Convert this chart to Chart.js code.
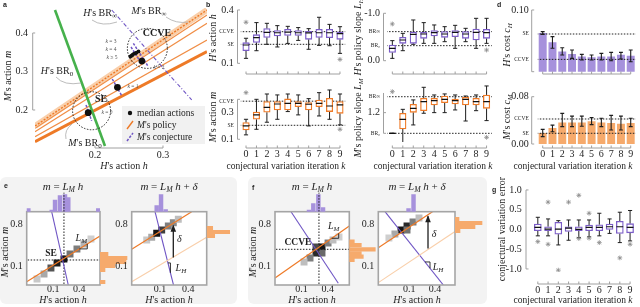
<!DOCTYPE html>
<html><head><meta charset="utf-8">
<script src="https://cdn.jsdelivr.net/npm/chart.js@4.4.1/dist/chart.umd.min.js"></script>
<style>
html,body{margin:0;padding:0;background:#fff;}
#wrap{position:relative;width:640px;height:307px;overflow:hidden;background:#fff;}
#wrap canvas{position:absolute;left:0;top:0;}
.bg{position:absolute;background:#f3f3f3;border-radius:6px;}
</style></head><body>
<div id="wrap">
<div class="bg" style="left:0px;top:177px;width:237px;height:127px"></div>
<div class="bg" style="left:248px;top:177px;width:239px;height:127px"></div>
</div>
<script>
// ======================= DATA =======================
const iterK = [0,1,2,3,4,5,6,7,8,9];

// panel a: median actions per iteration k, policies and conjectures
const aMedH = [0.190,0.233,0.269,0.264,0.259,0.255,0.252,0.257,0.254,0.261];
const aMedM = [0.193,0.259,0.327,0.352,0.347,0.343,0.339,0.346,0.341,0.349];
const aPolicyH = [0.1118, 0.3647];
const aPolicyBR0 = [0.1177, 0.3515];
const aPolicyK1 = [0.1307, 0.3818];
const aPolicyK2 = [0.1437, 0.4251];
const aPolicyK3 = [0.1524, 0.4468];
const aPolicyBRinf = [0.1584, 0.4597];
const aHBR0H = [0.1412, 0.2147], aHBR0M = [0.4597, 0.1065];
const aHBRinfH = [0.2246, 0.3422], aHBRinfM = [0.4597, 0.2260];
const aConjH = [[0.1868,0.1951],[0.2254,0.2393],[0.2564,0.2784],[0.253,0.265]];
const aConjM = [[0.213,0.1722],[0.2805,0.2372],[0.3732,0.3125],[0.3636,0.330]];
const aSE = [0.195, 0.198], aCCVE = [0.277, 0.360];

// panel b: box stats [whisker, q, median, q, whisker]
const hAction = [
 [0.128,0.171,0.203,0.216,0.241],[0.171,0.218,0.244,0.261,0.329],[0.207,0.246,0.274,0.295,0.325],
 [0.192,0.254,0.272,0.284,0.312],[0.212,0.257,0.276,0.291,0.308],[0.229,0.257,0.272,0.284,0.301],
 [0.179,0.235,0.271,0.280,0.295],[0.201,0.246,0.272,0.291,0.359],[0.199,0.244,0.272,0.291,0.319],
 [0.156,0.235,0.267,0.276,0.306]];
const hActionOut = [[0,0.331],[9,0.122]];
const hActionRef = [0.278, 0.207];   // CCVE, SE

const mAction = [
 [0.133,0.170,0.200,0.225,0.250],[0.175,0.250,0.283,0.305,0.400],[0.228,0.303,0.340,0.383,0.440],
 [0.250,0.320,0.365,0.383,0.433],[0.308,0.320,0.370,0.403,0.440],[0.283,0.345,0.370,0.383,0.433],
 [0.200,0.320,0.363,0.375,0.405],[0.275,0.345,0.370,0.395,0.450],[0.250,0.308,0.350,0.408,0.470],
 [0.208,0.295,0.358,0.383,0.440]];
const mActionOut = [[0,0.45],[9,0.175]];
const mActionRef = [0.386, 0.205];   // CCVE, SE

const hSlope = [
 [-0.049,-0.176,-0.260,-0.331,-0.423],[-0.211,-0.366,-0.437,-0.493,-0.577],[-0.345,-0.366,-0.556,-0.606,-0.859],
 [-0.366,-0.472,-0.563,-0.599,-0.803],[-0.366,-0.521,-0.592,-0.634,-0.754],[-0.401,-0.493,-0.563,-0.613,-0.718],
 [-0.261,-0.507,-0.599,-0.634,-0.746],[-0.401,-0.472,-0.563,-0.613,-0.683],[-0.261,-0.437,-0.599,-0.669,-0.894],
 [-0.366,-0.472,-0.592,-0.662,-0.894]];
const hSlopeOut = [[0,-0.775],[9,-0.225]];
const hSlopeRef = [-0.613, -0.317];  // BR_inf, BR_0

const mSlope = [
 [1.000,1.000,1.000,1.000,1.000],[0.910,1.042,1.135,1.194,1.232],[1.081,1.203,1.242,1.281,1.323],
 [1.194,1.219,1.306,1.339,1.445],[1.200,1.274,1.316,1.339,1.371],[1.200,1.297,1.329,1.361,1.381],
 [1.226,1.284,1.316,1.332,1.371],[1.119,1.274,1.329,1.348,1.361],[1.219,1.274,1.306,1.339,1.371],
 [1.123,1.242,1.306,1.371,1.458]];
const mSlopeOut = [[0,1.403],[9,0.961]];
const mSlopeRef = [1.354, 1.0];      // BR_inf, BR_0

// panel d: costs (mean, error low, error high)
const hCost   = [0.0622,0.0470,0.0324,0.0281,0.0243,0.0227,0.0243,0.0243,0.0270,0.0254];
const hCostLo = [0.0605,0.0380,0.0270,0.0216,0.0189,0.0189,0.0189,0.0178,0.0205,0.0162];
const hCostHi = [0.0649,0.0568,0.0389,0.0351,0.0281,0.0270,0.0297,0.0314,0.0314,0.0351];
const hCostRef = [0.0611, 0.0200];  // SE, CCVE
const mCost   = [0.0181,0.0265,0.0360,0.0360,0.0360,0.0378,0.0360,0.0349,0.0338,0.0349];
const mCostLo = [0.0124,0.0208,0.0293,0.0293,0.0300,0.0327,0.0293,0.0237,0.0237,0.0293];
const mCostHi = [0.0248,0.0320,0.0518,0.0472,0.0472,0.0446,0.0435,0.0484,0.0472,0.0435];
const mCostRef = [0.0423, 0.0181];  // CCVE, SE

// panel g: conjectural variation error
const cvErr = [
 [-0.162,-0.033,0.051,0.138,0.308],[-0.162,-0.033,0.009,0.069,0.266],[-0.392,-0.119,0.009,0.180,0.223],
 [-0.273,-0.051,0.034,0.069,0.240],[-0.205,-0.033,0.000,0.069,0.240],[-0.187,-0.033,0.051,0.112,0.240],
 [-0.162,-0.033,0.051,0.120,0.410],[-0.100,0.000,0.069,0.138,0.266],[-0.333,-0.103,0.069,0.205,0.436],
 [-0.290,-0.085,0.051,0.146,0.480]];
const cvErrOut = [[0,-0.308],[1,0.692],[1,-0.375],[2,-1.03],[3,0.692],[4,0.864],[4,-0.23],[5,0.41],[5,-0.22],[6,-0.333],[8,-0.72],[9,-0.375]];

// panel e (SE experiment)
const eSE = [0.223, 0.2];
const eLcellH = [-0.088,-0.007,0.073,0.143,0.223,0.293,0.373,0.454,0.535];
const eLcellM = [-0.117,-0.033,0.067,0.150,0.217,0.300,0.383,0.467,0.550];
const eLcellN = [0.15,0.30,0.70,0.95,1.00,0.55,0.50,0.25,0.12];
const eLhistH = [-0.188,0.082,0.120,0.177,0.235,0.273,0.619], eLhistHn = [3,1.5,11.5,16,17,14,3];
const eLhistM = [0.300,0.233,0.167,0.100,0.033,-0.167], eLhistMn = [8,27,26,15,5,5];
const eLpolicy = [[-0.207,-0.162],[0.639,0.600]], eLconj = [[0.081,1.005],[0.273,-0.217]];
const eRcellH = [-0.041,0.012,0.065,0.118,0.188,0.241,0.294];
const eRcellM = [0.533,0.578,0.645,0.700,0.767,0.822,0.878];
const eRcellN = [0.15,0.30,1.00,0.80,0.50,0.45,0.20];
const eRhistH = [0.065,0.111,0.160], eRhistHn = [6,17,2];
const eRhistM = [0.733,0.667,0.600], eRhistMn = [6,23,8];
const eRpolicy = [[-0.2,0.378],[0.436,1.005]], eRpolicy0 = [[-0.2,-0.162],[0.595,0.578]], eRconj = [[0.047,1.005],[0.243,-0.217]];
const eRdelta = [[0.241,0.24],[0.241,0.77]];

// panel f (CCVE experiment)
const fCCVE = [0.300, 0.378];
const fLcellH = [0.335,0.266,0.197,0.405,0.462,0.128,0.531,0.266,0.335];
const fLcellM = [0.417,0.317,0.233,0.483,0.533,0.167,0.583,0.417,0.317];
const fLcellN = [1.00,0.90,0.50,0.50,0.20,0.20,0.12,0.75,0.60];
const fLhistH = [0.185,0.235,0.293,0.347], fLhistHn = [1.5,8,17,4];
const fLhistM = [0.505,0.450,0.378,0.312,0.255,0.200], fLhistMn = [5,12,26,12,14,5];
const fLpolicy = [[-0.207,-0.1],[0.650,0.767]], fLconj = [[-0.022,1.005],[0.523,-0.188]];
const fRcellH = [0.003,0.073,0.143,-0.068,0.213,-0.138,0.073];
const fRcellM = [0.700,0.767,0.833,0.633,0.900,0.567,0.700];
const fRcellN = [1.00,0.90,0.50,0.30,0.20,0.12,0.55];
const fRhistH = [0.091,0.149], fRhistHn = [3,17];
const fRhistM = [0.883,0.817,0.750,0.683], fRhistMn = [4,27,20,5];
const fRpolicy = [[-0.262,0.403],[0.40,1.033]], fRpolicy0 = [[-0.262,-0.177],[0.633,0.675]], fRconj = [[-0.184,1.005],[0.497,-0.217]];
const fRdelta = [[0.318,0.39],[0.318,0.93]];

// ======================= STYLE / HELPERS =======================
const FF = '"Liberation Serif","DejaVu Serif",serif';
const SANS = '"Liberation Sans","DejaVu Sans",sans-serif';
const PURPLE = '#7b5dc7', PURPLE_F = '#a691dc', PURPLE_L = '#6f55c4';
const ORANGE = '#ee7a27', ORANGE_F = '#f6aa6c', ORANGE_L = '#f9cfaa', ORANGE_T = '#f08d45';
const GREEN = '#46b14c', SPINE = '#a0a0a0', INK = '#1e1e1e';
const wrap = document.getElementById('wrap');

function rich(ctx, segs, x, y, o = {}) {
  const size = o.size || 10;
  ctx.save();
  ctx.translate(x, y);
  if (o.rot) ctx.rotate(o.rot);
  ctx.fillStyle = o.color || INK;
  ctx.textBaseline = 'middle';
  ctx.textAlign = 'left';
  const parts = segs.map(sg => {
    const t = sg[0], st = sg[1] || '';
    const sub = st.includes('s');
    const fs = sub ? size * 0.7 : size;
    const font = (st.includes('i') ? 'italic ' : '') + (st.includes('b') ? 'bold ' : '') + fs + 'px ' + (st.includes('f') ? SANS : FF);
    ctx.font = font;
    return { t, font, w: ctx.measureText(t).width, dy: sub ? size * 0.28 : 0 };
  });
  const W = parts.reduce((a, p) => a + p.w, 0);
  let cx = o.align === 'left' ? 0 : o.align === 'right' ? -W : -W / 2;
  parts.forEach(p => { ctx.font = p.font; ctx.fillText(p.t, cx, p.dy); cx += p.w; });
  ctx.restore();
}
const ROT = -Math.PI / 2;

function sc(min, max, ticks, o = {}) {
  return {
    type: 'linear', min, max, reverse: !!o.reverse, offset: false,
    display: !!ticks,
    grid: { display: false, drawTicks: false }, border: { display: false },
    afterBuildTicks: s => { if (ticks) s.ticks = ticks.map(t => ({ value: t[0] })); },
    ticks: {
      autoSkip: false, maxRotation: 0, minRotation: 0, padding: o.pad ?? 4, color: INK,
      callback: (v, i) => ticks ? ticks[i][1] : '',
      font: c => ({ family: FF, size: (ticks && ticks[c.index] && ticks[c.index][2]) ? ticks[c.index][2] : (o.size || 10) })
    }
  };
}

function mk(type, datasets, area, scales, draw, before, extra = {}) {
  const cv = document.createElement('canvas');
  cv.width = 640; cv.height = 307;
  wrap.appendChild(cv);
  const [l, t, r, b] = area;
  const z = s => { s.paddingTop = s.paddingBottom = s.paddingLeft = s.paddingRight = 0; };
  scales.x.afterFit = s => { s.height = 307 - b; z(s); };
  scales.y.afterFit = s => { s.width = l; z(s); };
  return new Chart(cv.getContext('2d'), {
    type, data: { datasets },
    options: Object.assign({
      responsive: false, animation: false, devicePixelRatio: 1, events: [],
      layout: { padding: { left: 0, top: t, right: 640 - r, bottom: 0 } },
      plugins: { legend: { display: false }, tooltip: { enabled: false } },
      scales
    }, extra),
    plugins: [{
      id: 'deco',
      beforeDatasetsDraw(c) { if (before) { c.ctx.save(); before(c, c.ctx); c.ctx.restore(); } },
      afterDraw(c) { if (draw) { c.ctx.save(); draw(c, c.ctx); c.ctx.restore(); } }
    }]
  });
}
const P = (c, x, y) => ({ x: c.scales.x.getPixelForValue(x), y: c.scales.y.getPixelForValue(y) });
const line = (pts, color, w, dash) => ({ type: 'line', data: pts.map(p => ({ x: p[0], y: p[1] })), borderColor: color, borderWidth: w || 1.2, borderDash: dash || [], pointRadius: 0, spanGaps: false });

function ySpine(c, x, v0, v1, tv) {
  const ctx = c.ctx, s = c.scales.y;
  ctx.strokeStyle = SPINE; ctx.lineWidth = 1; ctx.setLineDash([]);
  ctx.beginPath(); ctx.moveTo(x, s.getPixelForValue(v0)); ctx.lineTo(x, s.getPixelForValue(v1));
  (tv || []).forEach(v => { const p = s.getPixelForValue(v); ctx.moveTo(x, p); ctx.lineTo(x + 2.5, p); });
  ctx.stroke();
}
function xSpine(c, y, v0, v1, tv) {
  const ctx = c.ctx, s = c.scales.x;
  ctx.strokeStyle = SPINE; ctx.lineWidth = 1; ctx.setLineDash([]);
  ctx.beginPath(); ctx.moveTo(s.getPixelForValue(v0), y); ctx.lineTo(s.getPixelForValue(v1), y);
  (tv || []).forEach(v => { const p = s.getPixelForValue(v); ctx.moveTo(p, y); ctx.lineTo(p, y - 2.5); });
  ctx.stroke();
}
const kTitle = [['conjectural variation iteration '], ['k', 'i']];

// ---------- box plot chart ----------
function boxChart(o) {
  const hw = o.hw ?? 0.31, cap = o.cap ?? 0.2;
  const med = [], wh = [];
  o.stats.forEach((s, k) => {
    med.push({ x: k - hw, y: s[2] }, { x: k + hw, y: s[2] }, { x: k, y: null });
    wh.push({ x: k, y: s[0] }, { x: k, y: s[1] }, { x: k, y: null }, { x: k, y: s[3] }, { x: k, y: s[4] }, { x: k, y: null },
      { x: k - cap, y: s[0] }, { x: k + cap, y: s[0] }, { x: k, y: null }, { x: k - cap, y: s[4] }, { x: k + cap, y: s[4] }, { x: k, y: null });
  });
  const ds = [
    { type: 'line', data: med, borderColor: '#111', borderWidth: 1.2, pointRadius: 0, spanGaps: false },
    { type: 'scatter', data: o.out.map(p => ({ x: p[0], y: p[1] })), pointStyle: 'star', pointRadius: 2.4, borderColor: '#8c8c8c', borderWidth: 0.8, backgroundColor: '#8c8c8c' },
    { type: 'bar', data: o.stats.map((s, k) => ({ x: k, y: [s[1], s[3]] })), backgroundColor: '#fff', borderColor: o.color, borderWidth: 1.3, borderSkipped: false, barThickness: o.barW ?? 6.5 },
    { type: 'line', data: wh, borderColor: INK, borderWidth: 1, pointRadius: 0, spanGaps: false },
    ...o.refs.map(v => line([[-0.6, v], [9.6, v]], '#222', 1, [1.5, 1.5]))
  ];
  mk('bar', ds, o.area, {
    x: sc(-0.5, 9.5, o.xlab ? iterK.map(k => [k, String(k)]) : null, { pad: o.xpad ?? 7 }),
    y: sc(o.ymin, o.ymax, o.yt, { pad: o.ypad ?? 7, reverse: o.reverse })
  }, (c, ctx) => {
    ySpine(c, o.sp[0], o.sp[1], o.sp[2], o.sp[3]);
    xSpine(c, o.xsY, 0, 9, iterK);
    if (o.ytitle) rich(ctx, o.ytitle[2], o.ytitle[0], o.ytitle[1], { rot: ROT, size: 10 });
    if (o.xtitle) rich(ctx, kTitle, o.xtitle[0], o.xtitle[1], { size: 9.5 });
  });
}

// ---------- bar chart with error bars ----------
function costChart(o) {
  const eb = [];
  o.vals.forEach((v, k) => {
    eb.push({ x: k, y: o.lo[k] }, { x: k, y: o.hi[k] }, { x: k, y: null },
      { x: k - 0.2, y: o.lo[k] }, { x: k + 0.2, y: o.lo[k] }, { x: k, y: null },
      { x: k - 0.2, y: o.hi[k] }, { x: k + 0.2, y: o.hi[k] }, { x: k, y: null });
  });
  const ds = [
    { type: 'line', data: eb, borderColor: INK, borderWidth: 1.1, pointRadius: 0, spanGaps: false },
    ...o.refs.map(v => line([[-0.6, v], [9.6, v]], '#222', 1, [1.5, 1.5])),
    { type: 'bar', data: o.vals.map((v, k) => ({ x: k, y: v })), backgroundColor: o.fill, barThickness: 7.3 }
  ];
  mk('bar', ds, o.area, {
    x: sc(-0.5, 9.5, o.xlab ? iterK.map(k => [k, String(k)]) : null, { pad: o.xpad ?? 5 }),
    y: sc(o.ymin, o.ymax, o.yt, { pad: o.ypad ?? 8 })
  }, (c, ctx) => {
    ySpine(c, o.sp[0], o.sp[1], o.sp[2], o.sp[3]);
    xSpine(c, o.xsY, 0, 9, iterK);
    rich(ctx, o.ytitle[2], o.ytitle[0], o.ytitle[1], { rot: ROT, size: 10 });
    if (o.xtitle) rich(ctx, kTitle, o.xtitle[0], o.xtitle[1], { size: 9.5 });
  });
}

// ---------- heat-map subpanel with marginal histograms ----------
const grey = n => { const v = Math.round(232 - 212 * n); return `rgb(${v},${v},${v})`; };
const onLine = (pts, x) => pts[0][1] + (x - pts[0][0]) * (pts[1][1] - pts[0][1]) / (pts[1][0] - pts[0][0]);
function slopeTri(c, pts, atX, dx) {
  const ctx = c.ctx;
  const A = P(c, atX, onLine(pts, atX));
  const p0 = P(c, pts[0][0], pts[0][1]), p1 = P(c, pts[1][0], pts[1][1]);
  const sl = (p1.y - p0.y) / (p1.x - p0.x);
  ctx.strokeStyle = INK; ctx.lineWidth = 0.9; ctx.setLineDash([]);
  ctx.beginPath(); ctx.moveTo(A.x, A.y); ctx.lineTo(A.x + dx, A.y); ctx.lineTo(A.x + dx, A.y + sl * dx); ctx.stroke();
  return A;
}
function arrowHead(c, pts) {
  const ctx = c.ctx, top = P(c, pts[1][0], pts[1][1]);
  ctx.fillStyle = INK; ctx.beginPath();
  ctx.moveTo(top.x, top.y - 1); ctx.lineTo(top.x - 2.8, top.y + 6); ctx.lineTo(top.x + 2.8, top.y + 6); ctx.closePath(); ctx.fill();
}
function heatSub(o) {
  const ds = [];
  if (o.arrow) ds.push(line(o.arrow, INK, 1.3));
  o.lines.forEach(L => ds.push(line(L[0], L[1], L[2], L[3])));
  ds.push({ type: 'scatter', data: o.cx.map((x, i) => ({ x, y: o.cy[i] })), pointStyle: 'rect', pointRadius: 4.9, backgroundColor: o.cn.map(grey), borderWidth: 0 });
  const [l, t, r, b] = o.area;
  mk('scatter', ds, o.area, {
    x: sc(o.xr[0], o.xr[1], [[0.1, '0.1'], [0.4, '0.4']], { pad: -1.5 }),
    y: sc(o.yr[0], o.yr[1], [[0.1, '0.1'], [0.8, '0.8']], { pad: 4 })
  }, (c, ctx) => {
    const a = c.chartArea;
    ctx.strokeStyle = '#a5a5a5'; ctx.lineWidth = 1.6; ctx.setLineDash([]);
    ctx.strokeRect(a.left, a.top, a.right - a.left, a.bottom - a.top);
    if (o.arrow) arrowHead(c, o.arrow);
    o.draw(c, ctx);
  }, (c, ctx) => {
    const a = c.chartArea; ctx.fillStyle = '#fff'; ctx.fillRect(a.left, a.top, a.right - a.left, a.bottom - a.top);
  });
  const tds = [{ type: 'bar', data: o.th[0].map((x, i) => ({ x, y: o.th[1][i] })), backgroundColor: PURPLE_F, barThickness: 3.8 }];
  if (o.vline != null) tds.unshift(line([[o.vline, 0], [o.vline, 19]], INK, 1, [1.5, 1.5]));
  mk('bar', tds, [l, t - 21, r, t], { x: sc(o.xr[0], o.xr[1]), y: sc(0, 21) });
  mk('bar', [{ data: o.rh[0].map((y, i) => ({ x: o.rh[1][i], y })), backgroundColor: ORANGE_F, barThickness: 3.5 }],
    [r, t, r + 30, b], { x: sc(0, 30), y: sc(o.yr[0], o.yr[1]) }, null, null, { indexAxis: 'y' });
}

// ======================= PANEL a =======================
(function () {
  const big = [0, 1, 2].map(k => ({ x: aMedH[k], y: aMedM[k] }));
  const small = iterK.slice(3).map(k => ({ x: aMedH[k], y: aMedM[k] }));
  const conj = [];
  aConjH.forEach((h, i) => { conj.push({ x: h[0], y: aConjM[i][0] }, { x: h[1], y: aConjM[i][1] }, { x: h[0], y: null }); });
  const pol = v => aPolicyH.map((h, i) => [h, v[i]]);
  const ds = [
    { type: 'scatter', data: big, pointRadius: 3.4, backgroundColor: '#111', borderWidth: 0 },
    { type: 'scatter', data: small, pointRadius: 1.9, backgroundColor: '#111', borderWidth: 0 },
    { type: 'line', data: conj, borderColor: PURPLE_L, borderWidth: 1.5, borderDash: [2.5, 1.5], pointRadius: 0, spanGaps: false },
    line(aHBRinfH.map((h, i) => [h, aHBRinfM[i]]), PURPLE_L, 1.1, [4, 2, 1, 2]),
    line(aHBR0H.map((h, i) => [h, aHBR0M[i]]), GREEN, 2.6),
    line(pol(aPolicyBR0), ORANGE, 3),
    line(pol(aPolicyK1), ORANGE_T, 1.1),
    line(pol(aPolicyK2), ORANGE_T, 1.1),
    line(pol(aPolicyK3), ORANGE_T, 1.1),
    line(pol(aPolicyBRinf), ORANGE, 1.4, [2, 1.5]),
    line(pol(aPolicyBRinf), ORANGE_L, 6)
  ];
  mk('scatter', ds, [35, 8, 207, 147], {
    x: sc(0.1118, 0.3647, [[0.2, '0.2'], [0.3, '0.3']], { pad: 2 }),
    y: sc(0.1039, 0.4649, [[0.2, '0.2'], [0.3, '0.3'], [0.4, '0.4']], { pad: 7 })
  }, (c, ctx) => {
    ctx.setLineDash([1.5, 1.5]); ctx.strokeStyle = '#222'; ctx.lineWidth = 1;
    [[aSE, 19], [aCCVE, 20]].forEach(([p, rad]) => { const q = P(c, p[0], p[1]); ctx.beginPath(); ctx.arc(q.x, q.y, rad, 0, 2 * Math.PI); ctx.stroke(); });
    ctx.setLineDash([]);
    ySpine(c, 32.7, 0.2, 0.4, [0.2, 0.4]);
    xSpine(c, 148, 0.2, 0.3, [0.2, 0.3]);
    ctx.strokeStyle = '#ababab'; ctx.lineWidth = 0.8;
    const curve = (a, m, e) => { ctx.beginPath(); ctx.moveTo(a[0], a[1]); ctx.quadraticCurveTo(m[0], m[1], e[0], e[1]); ctx.stroke(); };
    curve([92, 20], [102, 27], [117, 22]);
    curve([166, 17], [176, 24], [188, 22]);
    curve([56, 77], [64, 86], [81, 83]);
    curve([66, 139], [64, 130], [72, 124]);
    rich(ctx, [['H', 'i'], ["'s BR"], ['∞', 's']], 100, 13);
    rich(ctx, [['M', 'i'], ["'s BR"], ['∞', 's']], 149, 11);
    rich(ctx, [['H', 'i'], ["'s BR"], ['0', 's']], 57, 71);
    rich(ctx, [['M', 'i'], ["'s BR"], ['0', 's']], 85, 143);
    rich(ctx, [['SE', 'b']], 101, 99, { size: 10 });
    rich(ctx, [['CCVE', 'b']], 157, 33, { size: 10 });
    const kl = (s, x, y) => rich(ctx, [['k', 'i'], [s]], x, y, { size: 5.5, color: '#555' });
    kl(' = 0', 107, 113); kl(' = 1', 133, 87); kl(' = 2', 159, 68);
    kl(' = 3', 111, 42); kl(' = 4', 111, 50); kl(' ≥ 5', 112, 58);
    // legend
    ctx.fillStyle = 'rgba(240,240,240,0.95)'; ctx.fillRect(122, 106, 83, 38);
    ctx.fillStyle = '#111'; ctx.beginPath(); ctx.arc(130, 113, 2.2, 0, 2 * Math.PI); ctx.fill();
    ctx.strokeStyle = ORANGE; ctx.lineWidth = 1.4; ctx.beginPath(); ctx.moveTo(127, 129); ctx.lineTo(133, 121); ctx.stroke();
    ctx.strokeStyle = PURPLE_L; ctx.lineWidth = 1.5; ctx.setLineDash([2.5, 1.5]); ctx.beginPath(); ctx.moveTo(127, 141); ctx.lineTo(133, 133); ctx.stroke(); ctx.setLineDash([]);
    rich(ctx, [['median actions']], 137, 113, { size: 9.5, align: 'left' });
    rich(ctx, [['M', 'i'], ["'s policy"]], 137, 125, { size: 9.5, align: 'left' });
    rich(ctx, [['M', 'i'], ["'s conjecture"]], 137, 137, { size: 9.5, align: 'left' });
    // axis titles
    rich(ctx, [['H', 'i'], ["'s action "], ['h', 'i']], 124, 166);
    rich(ctx, [['M', 'i'], ["'s action "], ['m', 'i']], 8, 76, { rot: ROT });
    // panel letters
    [['a', 3, 5], ['b', 206, 5], ['d', 497, 5], ['e', 4, 186], ['f', 252, 188], ['g', 492, 190]].forEach(([s, x, y]) => rich(ctx, [[s, 'bf']], x, y, { size: 7, align: 'left' }));
  });
})();

// ======================= PANEL b =======================
boxChart({ area: [240.8, 5, 345.2, 66], ymin: 0.085, ymax: 0.428, stats: hAction, out: hActionOut, refs: hActionRef, color: PURPLE,
  yt: [[0.1, '0.1'], [hActionRef[1], 'SE', 5.5], [hActionRef[0], 'CCVE', 5.5], [0.4, '0.4']],
  sp: [237.5, 0.1, 0.4, [0.1, 0.4]], xsY: 74, ytitle: [213, 38, [['H', 'i'], ["'s action "], ['h', 'i']]] });
boxChart({ area: [240.8, 88, 345.2, 141], ymin: 0.087, ymax: 0.485, stats: mAction, out: mActionOut, refs: mActionRef, color: ORANGE,
  yt: [[0.1, '0.1'], [mActionRef[1], 'SE', 5.5], [0.3, '0.3'], [mActionRef[0], 'CCVE', 5.5]],
  sp: [237.5, 0.1, 0.4, [0.1, 0.4]], xsY: 148, xlab: true, xpad: 7.5, xtitle: [286, 166],
  ytitle: [213, 117, [['M', 'i'], ["'s action "], ['m', 'i']]] });
boxChart({ area: [387.1, 5, 491.8, 66], ymin: -1.175, ymax: 0.112, reverse: true, stats: hSlope, out: hSlopeOut, refs: hSlopeRef, color: PURPLE,
  yt: [[-1, '-1.0'], [hSlopeRef[0], 'BR∞', 5.5], [hSlopeRef[1], 'BR₀', 5.5], [0, '0.0']],
  sp: [383.5, -1, 0, [-1, 0]], xsY: 74, ytitle: [358, 37, [['H', 'i'], ["'s policy slope "], ['L', 'i'], ['H', 'is']]] });
boxChart({ area: [387.1, 84, 491.8, 142], ymin: 0.916, ymax: 1.477, stats: mSlope, out: mSlopeOut, refs: mSlopeRef, color: ORANGE,
  yt: [[mSlopeRef[1], 'BR₀', 5.5], [1.2, '1.2'], [mSlopeRef[0], 'BR∞', 5.5]],
  sp: [383.5, 1.0, 1.39, [1.0, 1.2]], xsY: 148, xlab: true, xpad: 6.5, xtitle: [433, 166],
  ytitle: [358, 118, [['M', 'i'], ["'s policy slope "], ['L', 'i'], ['M', 'is']]] });

// ======================= PANEL d =======================
costChart({ area: [537.8, 5, 635.6, 71.7], ymin: 0, ymax: 0.1081, vals: hCost, lo: hCostLo, hi: hCostHi, refs: hCostRef, fill: PURPLE_F,
  yt: [[hCostRef[1], 'CCVE', 5.5], [hCostRef[0], 'SE', 5.5], [0.1, '0.10']],
  sp: [531.7, 0, 0.1, [0, 0.1]], xsY: 74, ypad: 9, ytitle: [507, 45, [['H', 'i'], ["'s cost "], ['c', 'i'], ['H', 'is']]] });
costChart({ area: [537.8, 88, 635.6, 144], ymin: 0, ymax: 0.0947, vals: mCost, lo: mCostLo, hi: mCostHi, refs: mCostRef, fill: ORANGE_F,
  yt: [[0, '0.00'], [mCostRef[1], 'SE', 5.5], [mCostRef[0], 'CCVE', 5.5], [0.08, '0.08']],
  sp: [531.7, 0, 0.08, [0, 0.08]], xsY: 148, xlab: true, xpad: 4, ypad: 9, xtitle: [573, 166],
  ytitle: [507, 117, [['M', 'i'], ["'s cost "], ['c', 'i'], ['M', 'is']]] });

// ======================= PANEL g =======================
boxChart({ area: [532.7, 186, 638.6, 272], ymin: -1.077, ymax: 1.10, stats: cvErr, out: cvErrOut, refs: [], color: PURPLE, hw: 0.33, barW: 7,
  yt: [[-1, '-1.0'], [-0.5, '-0.5'], [0, '0.0'], [0.5, '0.5'], [1, '1.0']],
  sp: [526, -1, 1, [-1, 1]], xsY: 284, xlab: true, xpad: 12, ypad: 11, xtitle: [573, 300],
  ytitle: [502, 229, [['conjectural variation error']]] });

// ======================= PANELS e, f =======================
const tL = [['m', 'i'], [' = '], ['L', 'i'], ['M', 'is'], [' '], ['h', 'i']];
const tLd = [['m', 'i'], [' = '], ['L', 'i'], ['M', 'is'], [' '], ['h', 'i'], [' + '], ['δ', 'i']];
const xT = [['H', 'i'], ["'s action "], ['h', 'i']];
const yT = [['M', 'i'], ["'s action "], ['m', 'i']];
const LM = [['L', 'i'], ['M', 'is']], LH = [['L', 'i'], ['H', 'is']];

heatSub({ area: [26.7, 211.7, 100, 285], xr: [-0.207, 0.639], yr: [-0.217, 1.005],
  lines: [[eLpolicy, ORANGE, 1.2], [eLconj, PURPLE_L, 1.1],
          [[[eSE[0], -0.3], [eSE[0], 1.1]], INK, 1, [1.5, 1.5]], [[[-0.3, eSE[1]], [0.7, eSE[1]]], INK, 1, [1.5, 1.5]]],
  cx: eLcellH, cy: eLcellM, cn: eLcellN, th: [eLhistH, eLhistHn], vline: eSE[0], rh: [eLhistM, eLhistMn],
  draw: (c, ctx) => {
    const s = P(c, eSE[0], eSE[1]);
    rich(ctx, [['SE', 'b']], s.x - 13, s.y - 6, { size: 9.5 });
    const A = slopeTri(c, eLpolicy, 0.4, 8);
    rich(ctx, LM, A.x + 2, A.y - 11, { size: 10 });
    rich(ctx, tL, 63, 187, { size: 11 });
    rich(ctx, xT, 63, 300);
    rich(ctx, yT, 5, 252, { rot: ROT });
  } });
heatSub({ area: [131.7, 211.7, 206.7, 285], xr: [-0.2, 0.595], yr: [-0.217, 1.005],
  lines: [[eRpolicy, ORANGE, 1.2], [eRpolicy0, ORANGE_L, 1.1], [eRconj, PURPLE_L, 1.1]], arrow: eRdelta,
  cx: eRcellH, cy: eRcellM, cn: eRcellN, th: [eRhistH, eRhistHn], rh: [eRhistM, eRhistMn],
  draw: (c, ctx) => {
    const d = P(c, eRdelta[0][0], (eRdelta[0][1] + eRdelta[1][1]) / 2);
    rich(ctx, [['δ', 'i']], d.x + 6, d.y - 2, { size: 10 });
    const A = slopeTri(c, eRconj, 0.184, 2.5);
    rich(ctx, LH, A.x + 13, A.y + 5, { size: 10 });
    rich(ctx, tLd, 169, 187, { size: 11 });
    rich(ctx, xT, 169, 300);
  } });
heatSub({ area: [275, 211.7, 349.3, 285], xr: [-0.207, 0.650], yr: [-0.217, 1.005],
  lines: [[fLpolicy, ORANGE, 1.2], [fLconj, PURPLE_L, 1.1],
          [[[fCCVE[0], -0.3], [fCCVE[0], 1.1]], INK, 1, [1.5, 1.5]], [[[-0.3, fCCVE[1]], [0.7, fCCVE[1]]], INK, 1, [1.5, 1.5]]],
  cx: fLcellH, cy: fLcellM, cn: fLcellN, th: [fLhistH, fLhistHn], vline: fCCVE[0], rh: [fLhistM, fLhistMn],
  draw: (c, ctx) => {
    const s = P(c, fCCVE[0], fCCVE[1]);
    rich(ctx, [['CCVE', 'b']], s.x - 21, s.y - 7, { size: 9.5 });
    const A = slopeTri(c, fLpolicy, 0.447, 7);
    rich(ctx, LM, A.x + 2, A.y - 12, { size: 10 });
    rich(ctx, tL, 312, 187, { size: 11 });
    rich(ctx, xT, 312, 300);
    rich(ctx, yT, 253, 252, { rot: ROT });
  } });
heatSub({ area: [378.3, 211.7, 455, 285], xr: [-0.262, 0.633], yr: [-0.217, 1.005],
  lines: [[fRpolicy, ORANGE, 1.2], [fRpolicy0, ORANGE_L, 1.1], [fRconj, PURPLE_L, 1.1]], arrow: fRdelta,
  cx: fRcellH, cy: fRcellM, cn: fRcellN, th: [fRhistH, fRhistHn], rh: [fRhistM, fRhistMn],
  draw: (c, ctx) => {
    const d = P(c, fRdelta[0][0], (fRdelta[0][1] + fRdelta[1][1]) / 2);
    rich(ctx, [['δ', 'i']], d.x + 6, d.y + 2, { size: 10 });
    const A = slopeTri(c, fRconj, 0.283, 5);
    rich(ctx, LH, A.x + 13, A.y + 5, { size: 10 });
    rich(ctx, tLd, 417, 187, { size: 11 });
    rich(ctx, xT, 417, 300);
  } });
</script>
</body></html>
